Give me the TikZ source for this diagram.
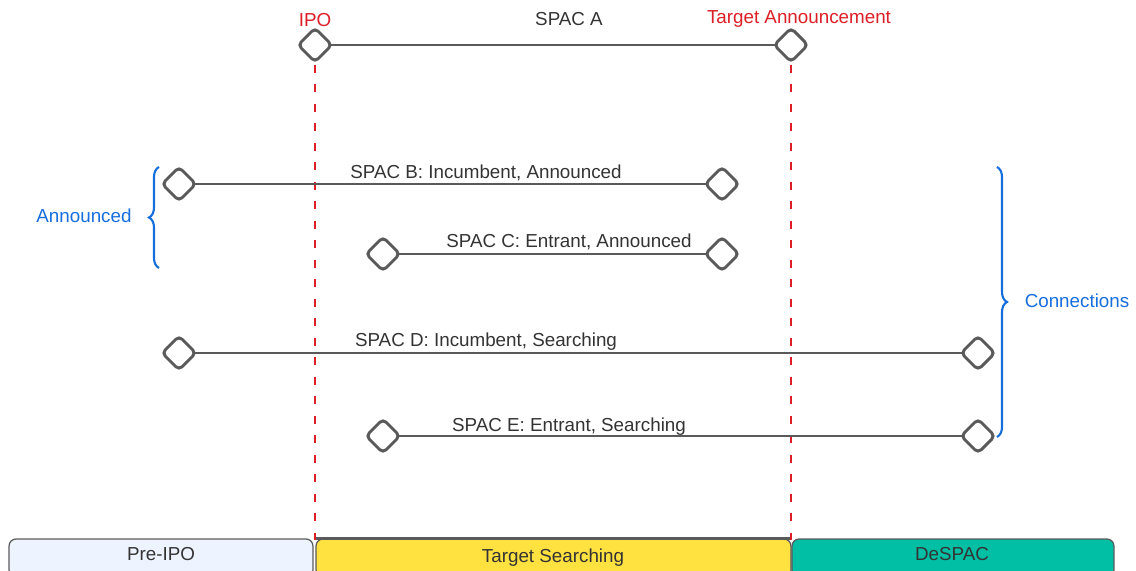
\documentclass[tikz,border=0pt]{standalone}
\usepackage{fontspec}
\setmainfont{Liberation Sans}
\usepackage{tikz}
\usetikzlibrary{shapes.geometric, decorations.pathreplacing, positioning, calc}

\definecolor{milered}{RGB}{220,30,38}
\definecolor{braceblue}{RGB}{22,110,220}
\definecolor{linegray}{RGB}{90,90,90}
\definecolor{textgray}{RGB}{51,51,51}
\definecolor{preipo}{RGB}{237,244,255}
\definecolor{searchyellow}{RGB}{255,225,64}
\definecolor{despacteal}{RGB}{0,191,165}

\tikzset{
  mile/.style={draw=linegray, line width=1.7pt, shape=diamond, aspect=1, minimum size=0.7cm, inner sep=0pt, rounded corners=2.5pt, fill=white},
  spacline/.style={draw=linegray, line width=1.4pt, shorten <=-2pt, shorten >=-2pt},
  phase/.style={draw=linegray, line width=0.7pt, rounded corners=4pt, minimum height=0.76cm, text=textgray, font=\fontsize{10.7}{13}\selectfont},
  milestone/.style={draw=milered, line width=1.3pt, dash pattern=on 4.6pt off 6.5pt},
  lbl/.style={text=textgray, font=\fontsize{10.7}{13}\selectfont, inner sep=0pt},
  redlbl/.style={text=milered, font=\fontsize{10.7}{13}\selectfont, inner sep=0pt},
  bluelbl/.style={text=braceblue, font=\fontsize{10.7}{13}\selectfont, inner sep=0pt},
  grp/.style={draw=braceblue, line width=1.2pt, decorate, decoration={brace, amplitude=0.2cm}}
}

\begin{document}
\begin{tikzpicture}[x=0.02cm, y=-0.02cm]
\clip (0,0) rectangle (1136,571);

% Phases
\node[phase, fill=preipo, minimum width=6.08cm] (pre) at (161,558) {};
\node[phase, fill=searchyellow, minimum width=9.5cm] (search) at (553.5,558) {};
\node[phase, fill=despacteal, minimum width=6.44cm] (despac) at (953,558) {};
\node[lbl] at (161,554) {Pre-IPO};
\node[lbl] at (553,558) {Target Searching};
\node[lbl] at (952,554) {DeSPAC};
\draw[linegray, line width=1.5pt] (search.north west) -- (search.north east);

% Milestones
\coordinate (ipobot) at (315,540);
\coordinate (tabot) at (791,540);
\draw[milestone] (315,45) -- (ipobot);
\draw[milestone] (791,45) -- (tabot);

% SPAC A
\node[mile] (a1) at (315,45) {};
\node[mile] (a2) at (791,45) {};
\draw[spacline] (a1) -- (a2);
\node[redlbl] at (315,20) {IPO};
\node[lbl] at (569,19) {SPAC A};
\node[redlbl] at (799,19) {Target Announcement};

% SPAC B
\node[mile] (b1) at (179,184) {};
\node[mile] (b2) at (722,184) {};
\draw[spacline] (b1) -- (b2);
\node[lbl] at (486,173) {SPAC B: Incumbent, Announced};

% SPAC C
\node[mile] (c1) at (383,254) {};
\node[mile] (c2) at (722,254) {};
\draw[spacline] (c1) -- (c2);
\node[lbl] at (569,242) {SPAC C: Entrant, Announced};

% SPAC D
\node[mile] (d1) at (179,353) {};
\node[mile] (d2) at (978,353) {};
\draw[spacline] (d1) -- (d2);
\node[lbl] at (486,342) {SPAC D: Incumbent, Searching};

% SPAC E
\node[mile] (e1) at (383,436) {};
\node[mile] (e2) at (978,436) {};
\draw[spacline] (e1) -- (e2);
\node[lbl] at (569,427) {SPAC E: Entrant, Searching};

% Groups
\draw[grp] (159,268) -- (159,167);
\node[bluelbl] at (84,216) {Announced};
\draw[grp] (997,167) -- (997,437);
\node[bluelbl] at (1077,301) {Connections};
\end{tikzpicture}
\end{document}
